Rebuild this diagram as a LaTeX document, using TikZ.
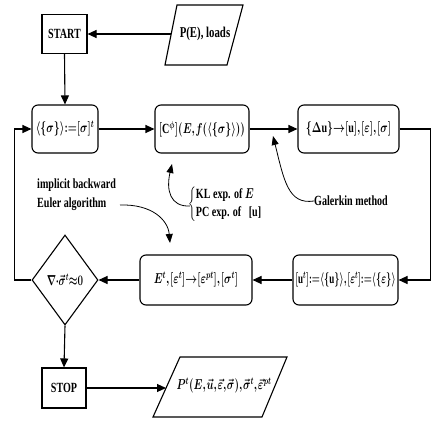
\documentclass[tikz,border=0pt]{standalone}
\usepackage{fontspec}
\usepackage{amsmath}
\usepackage{graphicx}
\setmainfont{Liberation Serif}
\usetikzlibrary{arrows.meta,shapes.geometric}
\newcommand{\sq}[1]{\scalebox{0.72}[1]{#1}}
\newcommand{\tightm}{\thickmuskip=1mu plus 1mu\medmuskip=0.5mu\thinmuskip=1mu}
\tikzset{
  base/.style={line width=1.1pt},
  arr/.style={base,-{Triangle[length=9pt,width=8pt]}},
  thin arr/.style={line width=0.8pt,-{Triangle[length=9pt,width=7pt]}},
  sbox/.style={base,draw,rectangle,inner sep=0pt,font=\fontsize{14}{16}\selectfont\bfseries},
  rbox/.style={base,draw,rectangle,rounded corners=6pt,inner sep=0pt,font=\fontsize{14}{16}\selectfont\bfseries\boldmath\tightm},
  dia/.style={base,draw,diamond,inner sep=0pt,font=\fontsize{14}{16}\selectfont\bfseries\boldmath\tightm},
  note/.style={inner sep=0pt,font=\fontsize{14}{20}\selectfont\bfseries},
  lbl/.style={inner sep=0pt,font=\fontsize{14}{16}\selectfont\bfseries\boldmath\tightm}
}
\begin{document}
\begin{tikzpicture}[x=1pt,y=-1pt]
\useasboundingbox (0,0) rectangle (432,422);
% nodes
\node[sbox,minimum width=45pt,minimum height=39pt] (start) at (64.5,34) {\sq{START}};
\draw[base] (177,5) -- (243,5) -- (227,65) -- (165,65) -- cycle;
\node[lbl,font=\fontsize{15}{17}\selectfont\bfseries] (inp) at (205,34) {\sq{P(E), loads}};
\coordinate (inpL) at (171,34);

\node[rbox,minimum width=66pt,minimum height=48pt] (b1) at (65,129) {\sq{$\langle\{\sigma\}\rangle\!:=\![\sigma]^t$}};
\node[rbox,minimum width=94pt,minimum height=48pt] (b2) at (202,129) {\sq{$[\mathrm{C}^{\phi}](E, f(\langle\{\sigma\}\rangle))$}};
\node[rbox,minimum width=101pt,minimum height=48pt] (b3) at (348.5,129) {\sq{$\{\Delta\mathrm{u}\}\!\rightarrow\![\mathrm{u}],[\varepsilon],[\sigma]$}};

\node[rbox,minimum width=105pt,minimum height=50pt] (b4) at (345.5,280) {\scalebox{0.64}[1]{$[\mathrm{u}^t]\!:=\!\langle\{\mathrm{u}\}\rangle,[\varepsilon^t]\!:=\!\langle\{\varepsilon\}\rangle$}};
\node[rbox,minimum width=112pt,minimum height=50pt] (b5) at (196,280) {\sq{$E^t,[\varepsilon^t]\!\rightarrow\![\varepsilon^{pt}],[\sigma^t]$}};
\node[dia,minimum width=66pt,minimum height=90pt,aspect=0.73] (d) at (65,280) {\scalebox{0.68}[1]{$\nabla\!\cdot\!\vec{\sigma}^t\!\approx\!0$}};

\node[sbox,minimum width=44pt,minimum height=40pt] (stop) at (64,388) {\sq{STOP}};
\draw[base] (180,357) -- (287,357) -- (262,417) -- (153,417) -- cycle;
\node[lbl] (out) at (224,386) {\sq{$P^t(E,\vec{u},\vec{\varepsilon},\vec{\sigma}),\vec{\sigma}^t,\vec{\varepsilon}^{\,pt}$}};
\coordinate (outL) at (166,388);

% annotations
\node[note,align=left,anchor=north west] (impl) at (37,179) {\sq{implicit backward}\\[-1pt]\sq{Euler algorithm}};
\node[lbl,anchor=west] (kl) at (188,204) {\sq{$\left\{\begin{tabular}{@{}l@{}}KL exp. of $E$\\[2pt]PC exp. of \ \ [u]\end{tabular}\right.$}};
\node[note,anchor=west] (gal) at (314,201) {\sq{Galerkin method}};
\coordinate (klL) at (190,206);
\coordinate (implE) at (120,205);
\coordinate (implT) at (170,243);
\coordinate (klT) at (172,164);
\coordinate (galT) at (273,136);

% connectors
\draw[arr] (inpL) -- (start.east);
\draw[arr] (start.south) -- (b1.north);
\draw[arr] (b1.east) -- (b2.west);
\draw[arr] (b2.east) -- (b3.west);
\draw[arr] (b3.east) -- ++(31,0) |- (b4.east);
\draw[arr] (b4.west) -- (b5.east);
\draw[arr] (b5.west) -- (d.east);
\draw[arr] (d.west) -- ++(-17,0) |- (b1.west);
\draw[arr] (d.south) -- (stop.north);
\draw[arr] (stop.east) -- (outL);

\draw[thin arr] (implE) .. controls (152,204) and (168,220) .. (implT);
\draw[thin arr] (klL) .. controls (170,207) and (166,190) .. (klT);
\draw[thin arr] (gal.west) .. controls (288,205) and (284,180) .. (galT);
\end{tikzpicture}
\end{document}
